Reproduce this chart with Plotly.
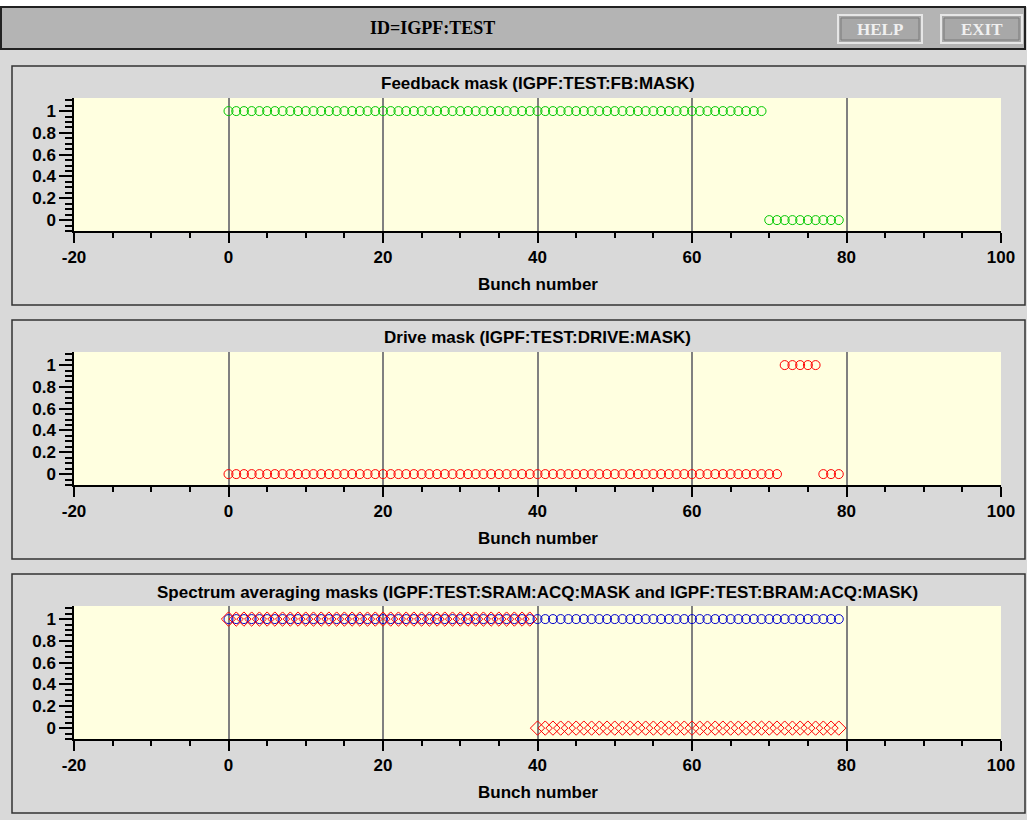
import plotly.graph_objects as go

W, H = 1027, 820

# ---------------- data ----------------
bunch = list(range(80))
fb_mask = [1, 1, 1, 1, 1, 1, 1, 1, 1, 1, 1, 1, 1, 1, 1, 1, 1, 1, 1, 1,
           1, 1, 1, 1, 1, 1, 1, 1, 1, 1, 1, 1, 1, 1, 1, 1, 1, 1, 1, 1,
           1, 1, 1, 1, 1, 1, 1, 1, 1, 1, 1, 1, 1, 1, 1, 1, 1, 1, 1, 1,
           1, 1, 1, 1, 1, 1, 1, 1, 1, 1, 0, 0, 0, 0, 0, 0, 0, 0, 0, 0]
drive_mask = [0, 0, 0, 0, 0, 0, 0, 0, 0, 0, 0, 0, 0, 0, 0, 0, 0, 0, 0, 0,
              0, 0, 0, 0, 0, 0, 0, 0, 0, 0, 0, 0, 0, 0, 0, 0, 0, 0, 0, 0,
              0, 0, 0, 0, 0, 0, 0, 0, 0, 0, 0, 0, 0, 0, 0, 0, 0, 0, 0, 0,
              0, 0, 0, 0, 0, 0, 0, 0, 0, 0, 0, 0, 1, 1, 1, 1, 1, 0, 0, 0]
sram_mask = [1, 1, 1, 1, 1, 1, 1, 1, 1, 1, 1, 1, 1, 1, 1, 1, 1, 1, 1, 1,
             1, 1, 1, 1, 1, 1, 1, 1, 1, 1, 1, 1, 1, 1, 1, 1, 1, 1, 1, 1,
             1, 1, 1, 1, 1, 1, 1, 1, 1, 1, 1, 1, 1, 1, 1, 1, 1, 1, 1, 1,
             1, 1, 1, 1, 1, 1, 1, 1, 1, 1, 1, 1, 1, 1, 1, 1, 1, 1, 1, 1]
bram_mask = [1, 1, 1, 1, 1, 1, 1, 1, 1, 1, 1, 1, 1, 1, 1, 1, 1, 1, 1, 1,
             1, 1, 1, 1, 1, 1, 1, 1, 1, 1, 1, 1, 1, 1, 1, 1, 1, 1, 1, 1,
             0, 0, 0, 0, 0, 0, 0, 0, 0, 0, 0, 0, 0, 0, 0, 0, 0, 0, 0, 0,
             0, 0, 0, 0, 0, 0, 0, 0, 0, 0, 0, 0, 0, 0, 0, 0, 0, 0, 0, 0]

panel_titles = ["Feedback mask (IGPF:TEST:FB:MASK)",
                "Drive mask (IGPF:TEST:DRIVE:MASK)",
                "Spectrum averaging masks (IGPF:TEST:SRAM:ACQ:MASK and IGPF:TEST:BRAM:ACQ:MASK)"]
x_title = "Bunch number"
x_tickvals = [-20, 0, 20, 40, 60, 80, 100]
y_tickvals = [0, 0.2, 0.4, 0.6, 0.8, 1]
y_ticktext = ["0", "0.2", "0.4", "0.6", "0.8", "1"]
header_text = "ID=IGPF:TEST"

# ---------------- helpers ----------------
def px(x):
    return x / W

def py(y):
    return 1 - y / H

BG = "#d9d9d9"
PLOT_BG = "#ffffe0"
GREEN = "#00c800"
RED = "#ff0000"
BLUE = "#0000cc"

fig = go.Figure()

PLOT_L, PLOT_R = 74, 1001
PLOT_TOP0, PLOT_BOT0 = 98, 231
STEP = 254

def add_trace(i, y, color, symbol, size=9):
    ax = "" if i == 0 else str(i + 1)
    fig.add_trace(go.Scatter(
        x=bunch, y=y, mode="markers",
        marker=dict(symbol=symbol, size=size, color=color,
                    line=dict(color=color, width=1)),
        xaxis="x" + ax, yaxis="y" + ax, showlegend=False, hoverinfo="x+y"))

add_trace(0, fb_mask, GREEN, "circle-open")
add_trace(1, drive_mask, RED, "circle-open")
add_trace(2, sram_mask, BLUE, "circle-open")
add_trace(2, bram_mask, RED, "diamond-open", size=11)

shapes = []
annotations = []
layout = {}
tickfont = dict(family="Liberation Sans Narrow, Liberation Sans", size=17, color="black", weight="bold")
labfont = dict(family="Liberation Sans Narrow, Liberation Sans", size=17, color="black", weight="bold")

for i in range(3):
    top = PLOT_TOP0 + STEP * i
    bot = PLOT_BOT0 + STEP * i
    ax = "" if i == 0 else str(i + 1)
    layout["xaxis" + ax] = dict(
        domain=[px(PLOT_L), px(PLOT_R)], anchor="y" + ax, automargin=False,
        range=[-20, 100], tickvals=x_tickvals, ticktext=[str(v) for v in x_tickvals],
        ticks="outside", ticklen=10, tickwidth=1.5, tickcolor="black",
        minor=dict(dtick=5, ticks="outside", ticklen=5, tickwidth=1.5, tickcolor="black", showgrid=False),
        showline=True, linecolor="black", linewidth=1.5,
        showgrid=True, gridcolor="#808080", gridwidth=1.5,
        zeroline=False, tickfont=tickfont,
        fixedrange=True,
    )
    layout["yaxis" + ax] = dict(
        domain=[py(bot), py(top)], anchor="x" + ax, automargin=False,
        range=[-0.1, 1.12], tickvals=y_tickvals, ticktext=y_ticktext,
        ticks="outside", ticklen=13, tickwidth=1.5, tickcolor="black",
        minor=dict(dtick=0.05, tick0=0, ticks="outside", ticklen=7, tickwidth=1.5, tickcolor="black", showgrid=False),
        showline=True, linecolor="black", linewidth=1.5,
        showgrid=False, zeroline=False,
        tickfont=tickfont, ticklabelstandoff=0,
        fixedrange=True,
    )
    # panel box
    shapes.append(dict(type="rect", xref="paper", yref="paper",
                       x0=px(12), x1=px(1025), y0=py(66 + STEP * i), y1=py(305 + STEP * i),
                       line=dict(color="#333333", width=1.5), fillcolor="rgba(0,0,0,0)", layer="below"))
    annotations.append(dict(text=panel_titles[i], xref="paper", yref="paper",
                            x=px((PLOT_L + PLOT_R) / 2), y=py(84 + STEP * i),
                            xanchor="center", yanchor="middle", showarrow=False,
                            font=dict(family="Liberation Sans Narrow, Liberation Sans", size=17,
                                      color="black", weight="bold")))
    annotations.append(dict(text=x_title, xref="paper", yref="paper",
                            x=px((PLOT_L + PLOT_R) / 2), y=py(284 + STEP * i),
                            xanchor="center", yanchor="middle", showarrow=False,
                            font=labfont))

# white strip above header
shapes.append(dict(type="rect", xref="paper", yref="paper",
                   x0=0, x1=1, y0=py(7), y1=1,
                   line=dict(width=0), fillcolor="#ffffff", layer="below"))
# header bar
shapes.append(dict(type="rect", xref="paper", yref="paper",
                   x0=px(1), x1=px(1025), y0=py(49), y1=py(7),
                   line=dict(color="#222222", width=2), fillcolor="#b4b4b4", layer="below"))
annotations.append(dict(text=header_text, xref="paper", yref="paper",
                        x=px(432), y=py(28), xanchor="center", yanchor="middle", showarrow=False,
                        font=dict(family="Liberation Serif", size=18, color="black", weight="bold")))
for label, x0, x1 in [("HELP", 838, 922), ("EXIT", 941, 1022)]:
    shapes.append(dict(type="rect", xref="paper", yref="paper",
                       x0=px(x0), x1=px(x1), y0=py(43), y1=py(15),
                       line=dict(color="#e6e6e6", width=2), fillcolor="#a8a8a8", layer="below"))
    shapes.append(dict(type="rect", xref="paper", yref="paper",
                       x0=px(x0 + 3), x1=px(x1 - 3), y0=py(40), y1=py(18),
                       line=dict(color="#7a7a7a", width=1), fillcolor="#a8a8a8", layer="below"))
    annotations.append(dict(text=label, xref="paper", yref="paper",
                            x=px((x0 + x1) / 2), y=py(29), xanchor="center", yanchor="middle",
                            showarrow=False,
                            font=dict(family="Liberation Serif", size=17, color="#f0f0f0", weight="bold")))

fig.update_layout(
    width=W, height=H, margin=dict(l=0, r=0, t=0, b=0, autoexpand=False),
    paper_bgcolor=BG, plot_bgcolor=PLOT_BG,
    shapes=shapes, annotations=annotations, showlegend=False,
    **layout,
)

post = ("document.body.style.margin='0';document.body.style.padding='0';"
        "document.body.style.overflow='hidden';"
        "document.documentElement.style.overflow='hidden';")

fig.write_html("out.html", config={"displayModeBar": False}, post_script=post)
